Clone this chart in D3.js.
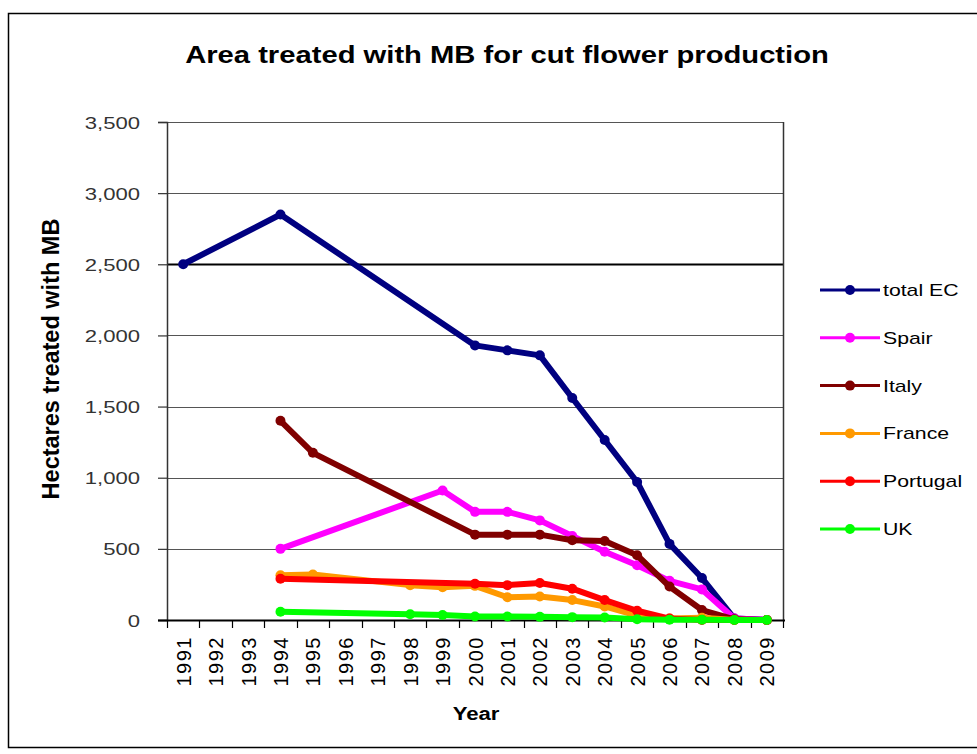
<!DOCTYPE html>
<html>
<head>
<meta charset="utf-8">
<script src="https://cdn.jsdelivr.net/npm/d3@7"></script>
<style>
  html, body { margin: 0; padding: 0; background: #fff; }
  svg { display: block; font-family: "Liberation Sans", Arial, sans-serif; }
</style>
</head>
<body>
<svg id="chart" width="977" height="754"></svg>
<script>
// Categories (years) and series values, hectares treated with MB
const years = ["1991","1992","1993","1994","1995","1996","1997","1998","1999","2000",
               "2001","2002","2003","2004","2005","2006","2007","2008","2009"];

const totalEC  = [2500, null, null, 2850, null, null, null, null, null, 1930, 1895, 1860, 1560, 1265, 970, 535, 295, 10, 0];
const spain    = [null, null, null, 500, null, null, null, null, 910, 760, 760, 700, 590, 480, 385, 275, 215, 10, 0];
const italy    = [null, null, null, 1400, 1175, null, null, null, null, 600, 600, 600, 560, 555, 455, 235, 70, 5, 0];
const france   = [null, null, null, 315, 320, null, null, 245, 230, 240, 160, 165, 140, 95, 30, 10, 15, 0, 0];
const portugal = [null, null, null, 290, null, null, null, null, null, 255, 245, 260, 220, 140, 65, 10, 0, 0, 0];
const uk       = [null, null, null, 58, null, null, null, 40, 35, 25, 25, 22, 20, 18, 5, 2, 2, 0, 0];

const seriesNames  = ["total EC", "Spair", "Italy", "France", "Portugal", "UK"];
const seriesValues = [totalEC, spain, italy, france, portugal, uk];
const seriesColors = ["#000080", "#FF00FF", "#800000", "#FF9900", "#FF0000", "#00FF00"];

const yTicks = [0, 500, 1000, 1500, 2000, 2500, 3000, 3500];

const titleText = "Area treated with MB for cut flower production";
const yTitle = "Hectares treated with MB";
const xTitle = "Year";

const svg = d3.select("#chart");
const plot = { left: 167, top: 122, right: 783, bottom: 620 };

const x = d3.scaleBand().domain(years).range([plot.left, plot.right]).padding(0);
const y = d3.scaleLinear().domain([0, 3500]).range([plot.bottom, plot.top]);
const cx = d => x(d) + x.bandwidth() / 2;

// outer frame
svg.append("rect")
  .attr("x", 8.5).attr("y", 13.5).attr("width", 1000).attr("height", 734)
  .attr("fill", "none").attr("stroke", "#000").attr("stroke-width", 1.5);

// title
svg.append("text")
  .attr("transform", "translate(507,63) scale(1.27,1)")
  .attr("text-anchor", "middle")
  .attr("font-size", 23).attr("font-weight", "bold").attr("fill", "#000")
  .text(titleText);

// gridlines
svg.append("g").selectAll("line")
  .data(yTicks.filter(v => v > 0))
  .join("line")
  .attr("x1", plot.left).attr("x2", plot.right)
  .attr("y1", d => Math.round(y(d)) + 0.5).attr("y2", d => Math.round(y(d)) + 0.5)
  .attr("stroke", d => d === 2500 ? "#000" : "#555")
  .attr("stroke-width", d => d === 2500 ? 2 : 1.2);

// plot area right border
svg.append("line")
  .attr("x1", plot.right + 0.5).attr("x2", plot.right + 0.5)
  .attr("y1", plot.top).attr("y2", plot.bottom)
  .attr("stroke", "#333").attr("stroke-width", 1.5);

// y axis
const yAxis = svg.append("g").attr("transform", `translate(${plot.left},0)`)
  .call(d3.axisLeft(y).tickValues(yTicks).tickSize(9).tickPadding(0).tickFormat(d3.format(",")));
yAxis.select(".domain").attr("stroke", "#333").attr("stroke-width", 1.5);
yAxis.selectAll(".tick line").attr("stroke", "#333").attr("stroke-width", 1.2);
yAxis.selectAll(".tick text")
  .attr("x", null).attr("dy", null)
  .attr("transform", "translate(-27,6) scale(1.3,1)")
  .attr("font-size", 17).attr("fill", "#333")
  .attr("font-family", "Liberation Sans, Arial, sans-serif");

// x axis (ticks between categories)
const xAxisG = svg.append("g");
xAxisG.append("line")
  .attr("x1", plot.left - 9).attr("x2", plot.right + 2)
  .attr("y1", plot.bottom + 0.5).attr("y2", plot.bottom + 0.5)
  .attr("stroke", "#000").attr("stroke-width", 2);
const boundaries = years.map(d => x(d)).concat([x(years[years.length - 1]) + x.bandwidth()]);
xAxisG.selectAll("line.tk").data(boundaries).join("line").attr("class", "tk")
  .attr("x1", d => Math.round(d) + 0.5).attr("x2", d => Math.round(d) + 0.5)
  .attr("y1", plot.bottom).attr("y2", plot.bottom + 8)
  .attr("stroke", "#000").attr("stroke-width", 1.2);
xAxisG.selectAll("text").data(years).join("text")
  .attr("transform", d => `translate(${cx(d) + 7.5},636) rotate(-90)`)
  .attr("text-anchor", "end")
  .attr("font-size", 20).attr("letter-spacing", 1.5).attr("fill", "#000")
  .text(d => d);

// axis titles
svg.append("text")
  .attr("transform", "translate(59,359) rotate(-90)")
  .attr("text-anchor", "middle")
  .attr("font-size", 23.5).attr("font-weight", "bold").attr("fill", "#000")
  .text(yTitle);
svg.append("text")
  .attr("transform", "translate(476,720) scale(1.23,1)")
  .attr("text-anchor", "middle")
  .attr("font-size", 18).attr("font-weight", "bold").attr("fill", "#000")
  .text(xTitle);

// series lines and markers
const line = d3.line().x(d => cx(d.year)).y(d => y(d.value));
seriesValues.forEach((vals, i) => {
  const pts = years.map((yr, j) => ({ year: yr, value: vals[j] })).filter(p => p.value !== null);
  const g = svg.append("g");
  g.append("path").datum(pts)
    .attr("d", line).attr("fill", "none")
    .attr("stroke", seriesColors[i]).attr("stroke-width", 6)
    .attr("stroke-linejoin", "round").attr("stroke-linecap", "round");
  g.selectAll("circle").data(pts).join("circle")
    .attr("cx", d => cx(d.year)).attr("cy", d => y(d.value)).attr("r", 5)
    .attr("fill", seriesColors[i]);
});

// legend
const legend = svg.append("g");
seriesNames.forEach((name, i) => {
  const ly = 290 + i * 47.8;
  legend.append("line").attr("x1", 820).attr("x2", 880).attr("y1", ly).attr("y2", ly)
    .attr("stroke", seriesColors[i]).attr("stroke-width", 3);
  legend.append("circle").attr("cx", 850).attr("cy", ly).attr("r", 5).attr("fill", seriesColors[i]);
  legend.append("text")
    .attr("transform", `translate(883,${ly + 6}) scale(1.25,1)`)
    .attr("font-size", 17).attr("fill", "#000")
    .text(name);
});
</script>
</body>
</html>
